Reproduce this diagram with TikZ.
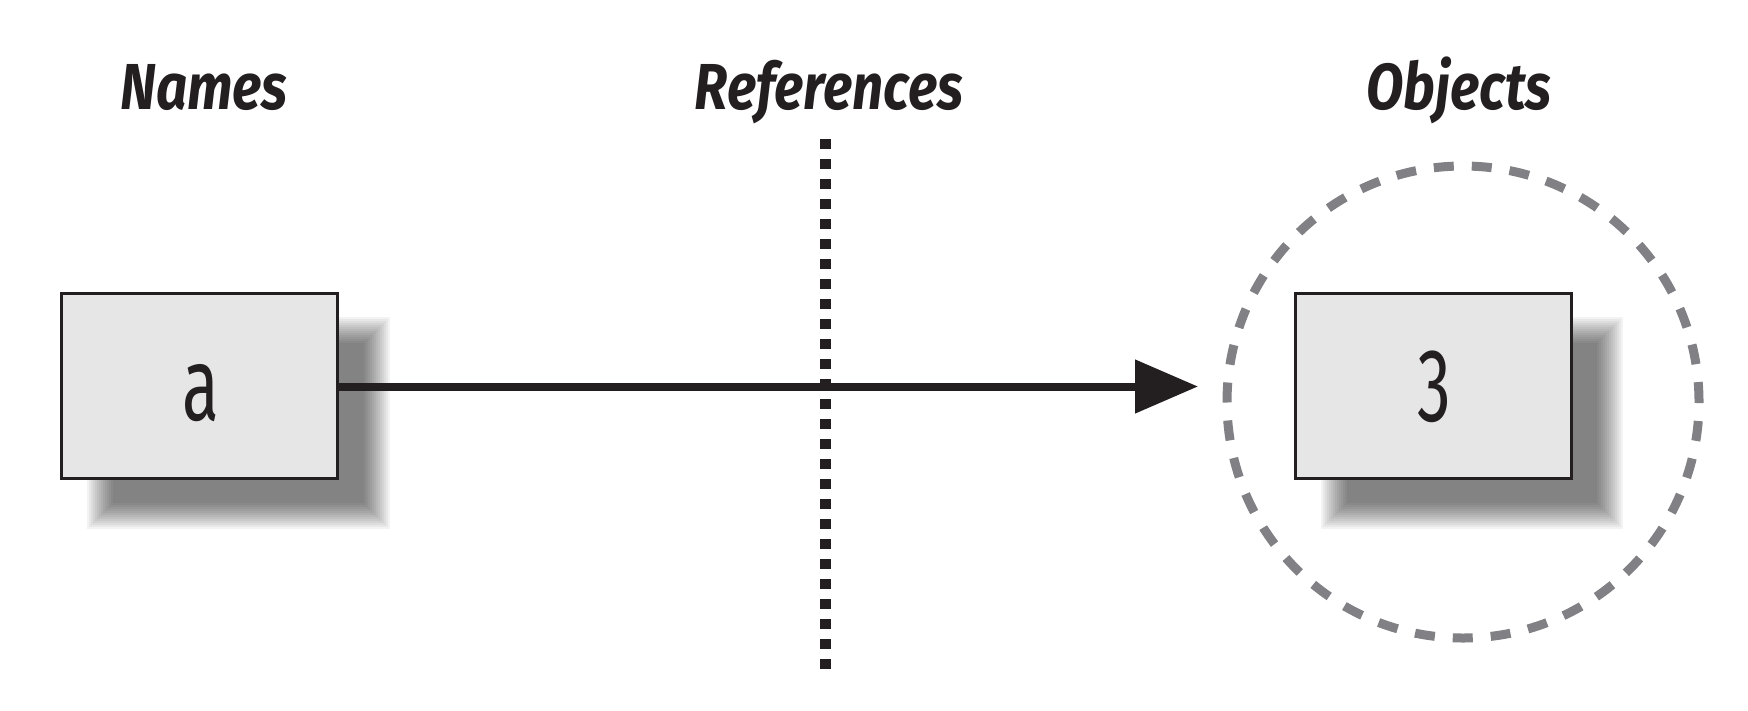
\documentclass[tikz,border=0pt]{standalone}
\usepackage{fontspec}
\setmainfont{Fira Sans}
\newfontfamily\titlefont[FakeStretch=0.84]{Fira Sans}
\newfontfamily\boxfont[FakeStretch=0.65]{Fira Sans}
\usetikzlibrary{arrows.meta}
\definecolor{ink}{RGB}{35,31,32}
\definecolor{boxfill}{RGB}{230,230,230}
\definecolor{dashgray}{RGB}{128,128,133}
\tikzset{
  title/.style={anchor=base, text=ink, inner sep=0pt,
    font=\titlefont\bfseries\itshape\fontsize{65}{70}\selectfont},
  valtext/.style={anchor=base, text=ink, inner sep=0pt,
    font=\boxfont\fontsize{104}{110}\selectfont},
  valbox/.style={draw=ink, fill=boxfill, line width=3pt, rectangle,
    minimum width=276pt, minimum height=185pt, inner sep=0pt},
  refline/.style={draw=ink, line width=11pt, dash pattern=on 10pt off 10pt},
  pointer/.style={draw=ink, line width=8pt, -{Triangle[length=63pt,width=52pt]}},
  objring/.style={circle, draw=dashgray, line width=9pt,
    dash pattern=on 20pt off 18pt, minimum size=472pt, inner sep=0pt}
}
\newcommand{\softshadow}[4]{% x0 y0 x1 y1 (pixel coords)
  \foreach \k in {0,...,13}{
    \pgfmathsetmacro{\e}{13-2*\k}
    \fill[black, opacity=0.048] (#1-\e,#2-\e) rectangle (#3+\e,#4+\e);
  }}
\begin{document}
\begin{tikzpicture}[x=1pt,y=-1pt]
\useasboundingbox (0,0) rectangle (1748,710);
% titles
\node[title] (tnames) at (204,109) {Names};
\node[title] (trefs) at (829,109) {References};
\node[title] (tobjs) at (1459,109) {Objects};
% shadows
\softshadow{100}{330}{377}{516}
\softshadow{1334}{330}{1610}{516}
% boxes
\node[valbox] (a) at (199,385.5) {};
\node[valbox] (three) at (1433,385.5) {};
\node[valtext] (atext) at (201,420) {a};
\node[valtext] (threetext) at (1434,421) {3};
% object ring
\node[objring] (obj) at (1463,402) {};
% reference divider
\coordinate (rtop) at (825,139);
\coordinate (rbot) at (825,674);
\draw[refline] (rtop) -- (rbot);
% arrow
\coordinate (tip) at (1198,386.5);
\draw[pointer] (a.east |- tip) -- (tip);
\end{tikzpicture}
\end{document}
